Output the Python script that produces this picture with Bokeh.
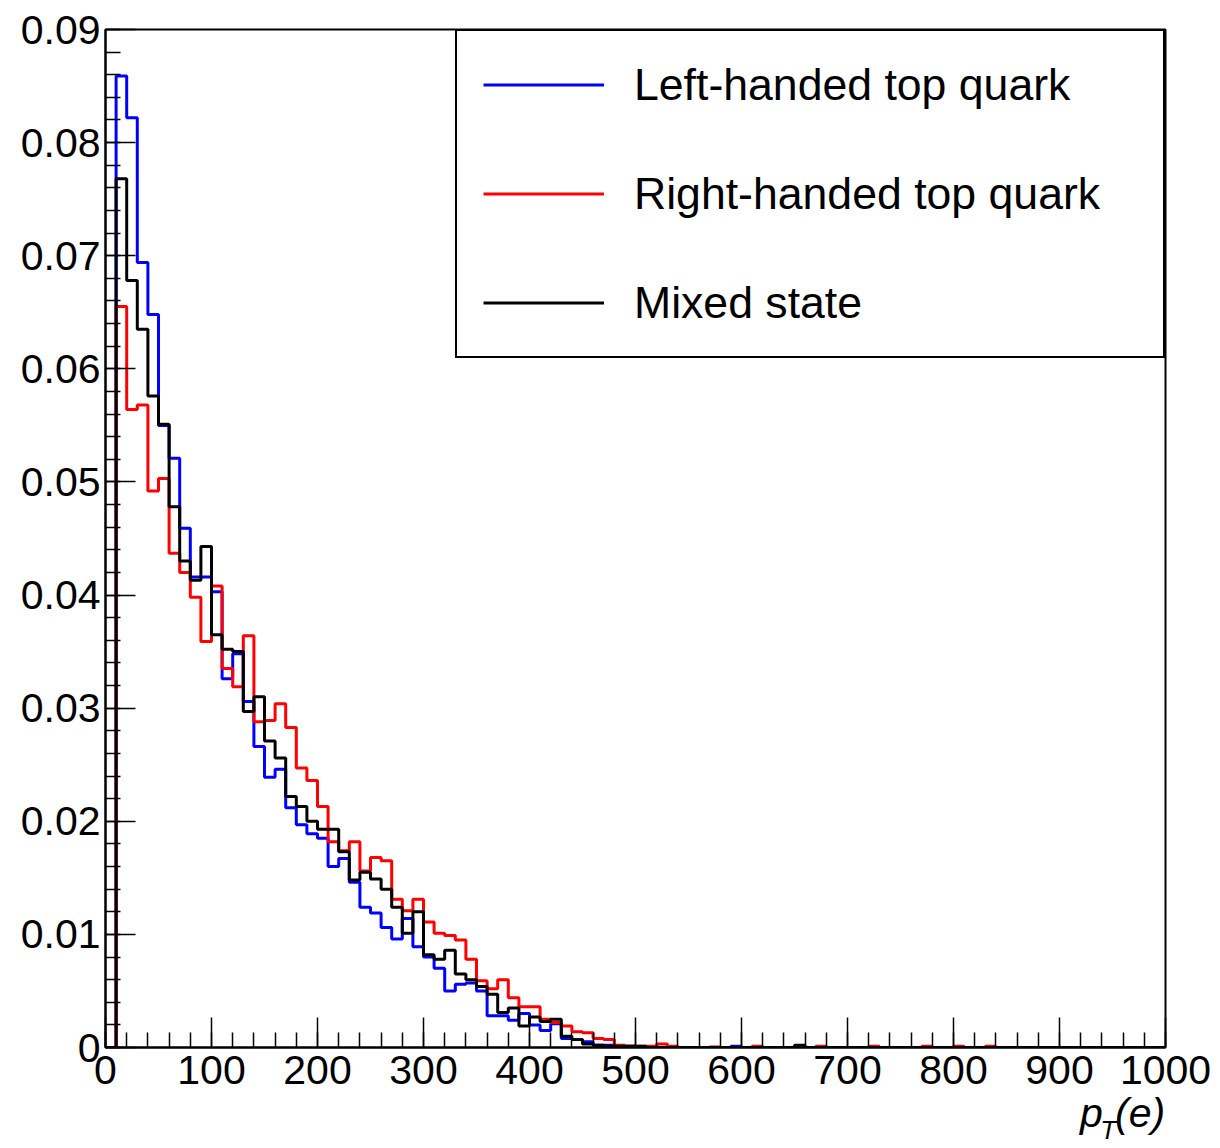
from bokeh.plotting import figure
from bokeh.models import (Range1d, SingleIntervalTicker, FixedTicker, CustomJSTickFormatter,
                          Legend, LegendItem, LinearAxis)
from bokeh.embed import file_html
from bokeh.resources import INLINE

# ---- data: 100 bins of width 10 GeV, 0..1000 ----
bin_edges = list(range(0, 1001, 10))

left_handed = [
    0.0, 0.0859, 0.0822, 0.0694, 0.0648, 0.0550, 0.0521, 0.0459, 0.0416, 0.0416,
    0.0403, 0.0326, 0.0348, 0.0306, 0.0266, 0.0239, 0.0246, 0.0212, 0.0197, 0.0189,
    0.0185, 0.0160, 0.0167, 0.0146, 0.0124, 0.0119, 0.0106, 0.0096, 0.0114, 0.0089,
    0.0080, 0.0070, 0.0050, 0.0056, 0.0057, 0.0050, 0.0028, 0.0028, 0.0024, 0.0030,
    0.0020, 0.0015, 0.0021, 0.0008, 0.0007, 0.0005, 0.0002, 0.0002, 0.0001, 0.0001,
    0.00005, 0.00005, 0.0, 0.0, 0.0, 0.0, 0.0, 0.0, 0.0, 0.0001,
    0.0, 0.0, 0.0, 0.0, 0.0, 0.0, 0.0, 0.0, 0.0, 0.0,
    0.0, 0.0, 0.0, 0.0, 0.0, 0.0, 0.0, 0.0, 0.0, 0.0,
    0.0, 0.0, 0.0, 0.0, 0.0, 0.0, 0.0, 0.0, 0.0, 0.0,
    0.0, 0.0, 0.0, 0.0, 0.0, 0.0, 0.0, 0.0, 0.0, 0.0,
]

right_handed = [
    0.0, 0.0655, 0.0564, 0.0568, 0.0492, 0.0503, 0.0437, 0.0420, 0.0398, 0.0359,
    0.0408, 0.0335, 0.0319, 0.0364, 0.0288, 0.0289, 0.0304, 0.0283, 0.0247, 0.0236,
    0.0213, 0.0182, 0.0174, 0.0182, 0.0156, 0.0168, 0.0165, 0.0131, 0.0121, 0.0131,
    0.0111, 0.0101, 0.0099, 0.0095, 0.0078, 0.0059, 0.0052, 0.0060, 0.0044, 0.0036,
    0.0036, 0.0025, 0.0022, 0.0019, 0.0014, 0.0013, 0.0008, 0.0007, 0.0002, 0.0001,
    0.0001, 0.0001, 0.0003, 0.0001, 0.0, 0.0, 0.0, 0.00005, 0.0, 0.0,
    0.0, 0.0001, 0.0, 0.0, 0.0, 0.0, 0.0, 0.0001, 0.0, 0.0,
    0.0, 0.0, 0.0001, 0.0, 0.0, 0.0, 0.0, 0.0001, 0.0, 0.0,
    0.0001, 0.0, 0.0, 0.0001, 0.0, 0.0, 0.0, 0.0, 0.0, 0.0,
    0.0, 0.0, 0.0, 0.0, 0.0, 0.0, 0.0, 0.0, 0.0, 0.0,
]

mixed = [
    0.0, 0.0768, 0.0678, 0.0635, 0.0576, 0.0551, 0.0478, 0.0430, 0.0413, 0.0443,
    0.0365, 0.0352, 0.0350, 0.0297, 0.0310, 0.0271, 0.0256, 0.0222, 0.0213, 0.0200,
    0.0193, 0.0193, 0.0173, 0.0148, 0.0155, 0.0149, 0.0140, 0.0124, 0.0101, 0.0120,
    0.0082, 0.0078, 0.0086, 0.0065, 0.0060, 0.0054, 0.0047, 0.0031, 0.0035, 0.0019,
    0.0027, 0.0023, 0.0025, 0.0010, 0.0007, 0.0003, 0.0002, 0.0001, 0.0001, 0.0001,
    0.0001, 0.0, 0.0, 0.0, 0.0, 0.0, 0.0, 0.0, 0.0, 0.0,
    0.0, 0.0, 0.0, 0.0, 0.0, 0.0002, 0.0, 0.0, 0.0, 0.0,
    0.0, 0.0, 0.0, 0.0, 0.0, 0.0, 0.0, 0.0, 0.0, 0.0,
    0.0, 0.0, 0.0, 0.0, 0.0, 0.0, 0.0, 0.0, 0.0, 0.0,
    0.0, 0.0, 0.0, 0.0, 0.0, 0.0, 0.0, 0.0, 0.0, 0.0,
]

series_labels = ["Left-handed top quark", "Right-handed top quark", "Mixed state"]
series_colors = ["#0000ff", "#ff0000", "#000000"]

# axis title p_T(e): main letters and subscript
title_main_parts = ["p", "(e)"]
title_sub_parts = ["T"]

FONT = "Liberation Sans"

p = figure(width=1220, height=1148, output_backend="svg", toolbar_location=None,
           x_range=Range1d(0, 1000), y_range=Range1d(0, 0.09),
           min_border_left=105, min_border_right=55,
           min_border_top=29, min_border_bottom=101)

p.background_fill_color = "white"
p.border_fill_color = "white"
p.xgrid.visible = False
p.ygrid.visible = False
p.outline_line_color = "black"
p.outline_line_width = 2
p.outline_line_alpha = 1.0

renderers = []
for vals, col in zip([left_handed, right_handed, mixed], series_colors):
    r = p.step(bin_edges, vals + [vals[-1]], mode="after",
               line_color=col, line_width=3)
    renderers.append(r)

p.xaxis.ticker = SingleIntervalTicker(interval=100, num_minor_ticks=5)
p.yaxis.ticker = SingleIntervalTicker(interval=0.01, num_minor_ticks=5)
p.yaxis.formatter = CustomJSTickFormatter(
    code="return Math.abs(tick) < 1e-9 ? '0' : tick.toFixed(2);")

for ax in [p.xaxis[0], p.yaxis[0]]:
    ax.major_tick_in = 30
    ax.major_tick_out = 0
    ax.minor_tick_in = 15
    ax.minor_tick_out = 0
    ax.major_tick_line_width = 1.5
    ax.minor_tick_line_width = 1.5
    ax.major_tick_line_color = "black"
    ax.minor_tick_line_color = "black"
    ax.axis_line_width = 2
    ax.axis_line_color = "black"
    ax.major_label_text_font = FONT
    ax.major_label_text_font_size = "41px"
    ax.major_label_text_color = "black"
p.xaxis.major_label_standoff = 8
p.yaxis.major_label_standoff = 5


def title_axis(positions, parts, size, standoff):
    ax = LinearAxis(ticker=FixedTicker(ticks=positions, minor_ticks=[]),
                    formatter=CustomJSTickFormatter(args=dict(parts=parts),
                                                    code="return parts[index];"))
    ax.axis_line_color = None
    ax.major_tick_line_color = None
    ax.minor_tick_line_color = None
    ax.major_tick_in = 0
    ax.major_tick_out = 0
    ax.minor_tick_in = 0
    ax.minor_tick_out = 0
    ax.major_label_text_font = FONT
    ax.major_label_text_font_style = "italic"
    ax.major_label_text_font_size = size
    ax.major_label_text_color = "black"
    ax.major_label_standoff = standoff
    return ax


p.add_layout(title_axis([930, 976], title_main_parts, "41px", 3), "below")
p.add_layout(title_axis([946], title_sub_parts, "26px", -24), "below")

legend = Legend(
    items=[LegendItem(label=lab, renderers=[r]) for lab, r in zip(series_labels, renderers)],
    location="top_right", margin=0, padding=26, spacing=54,
    glyph_width=121, glyph_height=55, label_height=55, label_width=503,
    label_standoff=30, label_text_font=FONT, label_text_font_size="44.6px",
    label_text_color="black", border_line_color="black", border_line_width=2,
    border_line_alpha=1.0, background_fill_color="white", background_fill_alpha=1.0)
p.add_layout(legend)

open("out.html", "w").write(file_html(p, INLINE))
